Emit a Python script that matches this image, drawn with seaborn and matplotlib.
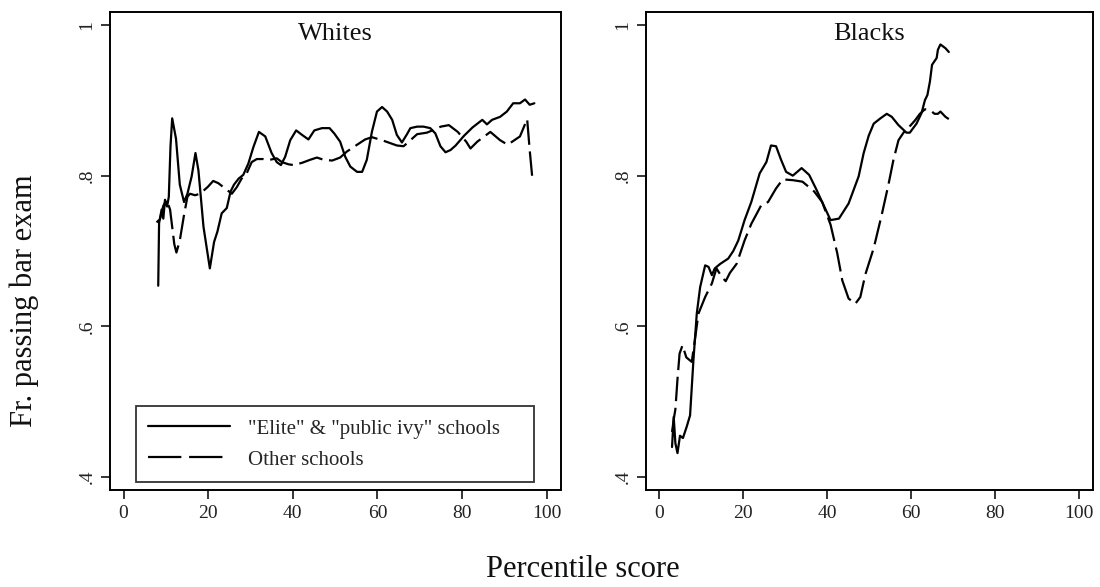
import matplotlib
matplotlib.use("Agg")
import matplotlib.pyplot as plt
from matplotlib.lines import Line2D
import seaborn as sns
import pandas as pd

# Smoothed bar-passage rates by LSAT/GPA percentile, by race and school tier
white_elite_x = [8.2, 8.4, 9.0, 9.4, 9.8, 10.3, 10.7, 11.1, 11.5, 12.4, 13.3, 14.3, 15.1,
                 16.1, 17.0, 17.7, 18.9, 20.4, 21.4, 22.2, 23.2, 24.4, 25.3, 26.1, 27.2,
                 28.3, 29.5, 30.7, 32.0, 33.5, 35.0, 36.2, 37.2, 38.2, 39.4, 40.8, 42.2,
                 43.7, 45.1, 46.9, 48.7, 49.8, 51.2, 52.4, 53.6, 55.2, 56.4, 57.5, 58.7,
                 59.9, 61.1, 62.3, 63.5, 64.6, 65.8, 67.0, 67.8, 69.4, 70.9, 72.5, 73.7,
                 74.9, 76.1, 77.3, 78.5, 80.5, 82.5, 84.8, 85.9, 87.1, 89.0, 90.6, 92.1,
                 93.7, 94.9, 96.0, 97.1]
white_elite_y = [0.654, 0.737, 0.755, 0.743, 0.768, 0.759, 0.772, 0.839, 0.876, 0.849,
                 0.788, 0.765, 0.776, 0.799, 0.830, 0.807, 0.732, 0.677, 0.712, 0.726,
                 0.750, 0.757, 0.779, 0.788, 0.796, 0.801, 0.816, 0.838, 0.858, 0.852,
                 0.830, 0.818, 0.814, 0.825, 0.847, 0.860, 0.854, 0.848, 0.860, 0.863,
                 0.863, 0.856, 0.845, 0.825, 0.812, 0.805, 0.805, 0.821, 0.858, 0.885,
                 0.891, 0.885, 0.874, 0.854, 0.844, 0.855, 0.863, 0.865, 0.865, 0.863,
                 0.856, 0.839, 0.831, 0.834, 0.840, 0.853, 0.864, 0.874, 0.868, 0.874,
                 0.878, 0.885, 0.896, 0.896, 0.901, 0.894, 0.896]

white_other_x = [7.8, 8.6, 9.4, 10.2, 11.0, 12.0, 12.5, 13.3, 14.3, 15.1, 15.7, 16.9,
                 18.1, 19.9, 21.2, 22.4, 24.0, 25.6, 26.8, 27.9, 29.1, 30.3, 31.5, 33.1,
                 34.6, 36.2, 37.4, 39.0, 40.2, 42.2, 44.1, 45.7, 47.3, 49.3, 51.2, 52.8,
                 54.4, 57.1, 58.7, 61.1, 63.1, 64.6, 66.2, 67.8, 69.4, 71.7, 73.0, 75.0,
                 76.9, 79.0, 81.0, 82.0, 83.6, 86.7, 89.0, 90.8, 93.7, 95.4, 96.0, 96.7]
white_other_y = [0.738, 0.742, 0.760, 0.768, 0.755, 0.709, 0.698, 0.714, 0.748, 0.772,
                 0.776, 0.774, 0.776, 0.785, 0.793, 0.790, 0.783, 0.776, 0.785, 0.796,
                 0.803, 0.818, 0.822, 0.822, 0.821, 0.823, 0.818, 0.815, 0.814, 0.817,
                 0.821, 0.824, 0.821, 0.820, 0.824, 0.832, 0.838, 0.848, 0.851, 0.847,
                 0.843, 0.840, 0.839, 0.847, 0.855, 0.857, 0.860, 0.865, 0.867, 0.858,
                 0.845, 0.836, 0.845, 0.858, 0.847, 0.841, 0.852, 0.875, 0.834, 0.792]

black_elite_x = [3.0, 3.4, 3.8, 4.3, 4.9, 5.6, 6.5, 7.3, 8.1, 8.9, 9.7, 10.9, 11.7, 12.5,
                 13.2, 14.5, 16.4, 17.6, 18.8, 20.3, 21.9, 23.9, 25.5, 26.6, 27.8, 29.0,
                 30.2, 31.8, 33.9, 35.7, 37.3, 38.8, 40.8, 42.8, 45.1, 47.5, 48.7, 49.9,
                 51.1, 52.7, 54.2, 55.4, 57.0, 58.9, 59.7, 61.3, 62.5, 63.3, 63.9, 64.5,
                 65.0, 66.1, 66.4, 67.0, 68.2, 69.0]
black_elite_y = [0.440, 0.480, 0.445, 0.432, 0.455, 0.452, 0.467, 0.482, 0.555, 0.617,
                 0.652, 0.681, 0.679, 0.668, 0.677, 0.683, 0.690, 0.700, 0.714, 0.741,
                 0.765, 0.803, 0.818, 0.840, 0.839, 0.821, 0.805, 0.800, 0.810, 0.801,
                 0.783, 0.765, 0.741, 0.743, 0.763, 0.799, 0.830, 0.853, 0.869, 0.876,
                 0.882, 0.878, 0.867, 0.857, 0.857, 0.869, 0.883, 0.900, 0.907, 0.925,
                 0.947, 0.956, 0.967, 0.974, 0.969, 0.964]

black_other_x = [3.0, 3.5, 3.8, 4.3, 4.8, 5.5, 6.4, 7.7, 8.4, 9.3, 10.9, 12.5, 13.6, 14.8,
                 15.8, 16.8, 18.4, 20.3, 21.9, 24.3, 25.9, 27.8, 29.4, 31.8, 34.1, 36.9,
                 38.8, 40.8, 42.4, 43.6, 45.1, 46.7, 47.9, 49.1, 51.1, 53.0, 54.6, 55.8,
                 57.0, 58.2, 59.3, 60.9, 62.1, 63.3, 64.5, 65.6, 66.4, 67.0, 68.2, 69.0]
black_other_y = [0.460, 0.480, 0.490, 0.530, 0.564, 0.575, 0.559, 0.553, 0.580, 0.617,
                 0.639, 0.657, 0.677, 0.666, 0.660, 0.671, 0.683, 0.714, 0.736, 0.761,
                 0.765, 0.783, 0.795, 0.794, 0.792, 0.779, 0.765, 0.735, 0.697, 0.661,
                 0.637, 0.630, 0.639, 0.669, 0.704, 0.748, 0.788, 0.821, 0.847, 0.857,
                 0.863, 0.873, 0.882, 0.888, 0.887, 0.882, 0.882, 0.885, 0.878, 0.875]

panel_titles = ["Whites", "Blacks"]
school_labels = ['"Elite" & "public ivy" schools', "Other schools"]
x_ticks = [0, 20, 40, 60, 80, 100]
y_ticks = [0.4, 0.6, 0.8, 1.0]
y_tick_labels = [".4", ".6", ".8", "1"]


def panel_frame(xs_elite, ys_elite, xs_other, ys_other):
    elite = pd.DataFrame({"pct": xs_elite, "frac": ys_elite, "school": school_labels[0]})
    other = pd.DataFrame({"pct": xs_other, "frac": ys_other, "school": school_labels[1]})
    return pd.concat([elite, other], ignore_index=True)


panels = [
    panel_frame(white_elite_x, white_elite_y, white_other_x, white_other_y),
    panel_frame(black_elite_x, black_elite_y, black_other_x, black_other_y),
]

sns.set_theme(style="ticks")
plt.rcParams["font.family"] = ["Liberation Serif", "DejaVu Serif"]
plt.rcParams["axes.linewidth"] = 1.4

LW = 1.6
DASH = (11, 3)

fig = plt.figure(figsize=(11, 5.87), dpi=100)
ax_left = fig.add_axes([0.100, 0.1652, 0.410, 0.8143])
ax_right = fig.add_axes([0.5873, 0.1652, 0.4064, 0.8143])

for ax, df, title in zip([ax_left, ax_right], panels, panel_titles):
    sns.lineplot(data=df, x="pct", y="frac", style="school",
                 dashes={school_labels[0]: "", school_labels[1]: DASH},
                 color="black", linewidth=LW, estimator=None, legend=False, ax=ax)
    ax.set_xlim(-3.2, 103.4)
    ax.set_ylim(0.383, 1.017)
    ax.set_xticks(x_ticks)
    ax.set_xticklabels([str(t) for t in x_ticks])
    ax.set_yticks(y_ticks)
    ax.set_yticklabels(y_tick_labels, rotation=90, va="center")
    ax.tick_params(axis="both", direction="out", length=6.5, width=1.1,
                   labelsize=14, color="black", labelcolor="#222222", pad=4)
    ax.set_xlabel("")
    ax.set_ylabel("")
    for side in ["top", "right", "bottom", "left"]:
        ax.spines[side].set_visible(True)
        ax.spines[side].set_color("black")
    ax.text(0.5, 0.978, title, transform=ax.transAxes, ha="center", va="top",
            fontsize=19, color="#111111")

handles = [
    Line2D([], [], color="black", linewidth=LW),
    Line2D([], [], color="black", linewidth=LW, dashes=(15, 3.5)),
]
leg = ax_left.legend(handles, school_labels, loc="lower left",
                     bbox_to_anchor=(0.0576, 0.0167, 0.8825, 0.152), mode="expand",
                     borderaxespad=0, frameon=True, fancybox=False, fontsize=15,
                     handlelength=3.9, handletextpad=0.9, labelspacing=0.55,
                     borderpad=0.6)
leg.get_frame().set_edgecolor("black")
leg.get_frame().set_linewidth(1.3)

fig.text(0.022, 0.487, "Fr. passing bar exam", rotation=90, ha="center", va="center",
         fontsize=22, color="#111111")
fig.text(0.530, 0.030, "Percentile score", ha="center", va="center",
         fontsize=22, color="#111111")

fig.savefig("out.png", dpi=100, facecolor="white")
